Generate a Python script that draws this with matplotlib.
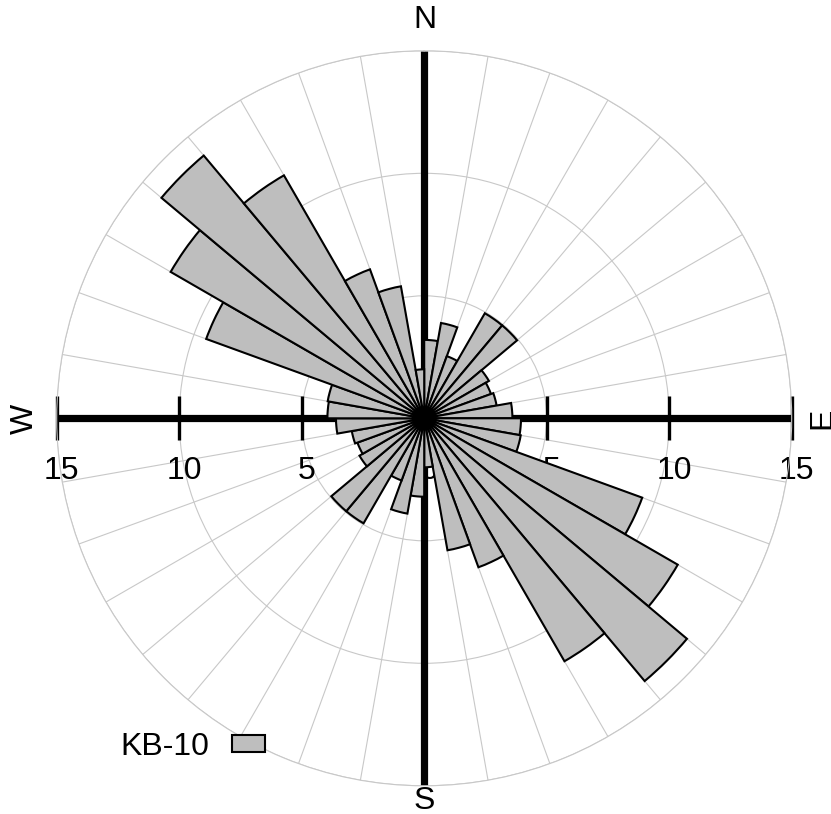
import numpy as np
import matplotlib
matplotlib.use("Agg")
import matplotlib.pyplot as plt

plt.rcParams['font.family'] = ['Liberation Sans', 'DejaVu Sans']

# ---- data: rose diagram, 10-degree bins (bin start azimuths, degrees) ----
bin_start_deg = [0, 10, 20, 30, 40, 50, 60, 70, 80, 90, 100, 110, 120, 130, 140, 150, 160, 170,
                 180, 190, 200, 210, 220, 230, 240, 250, 260, 270, 280, 290, 300, 310, 320, 330, 340, 350]
counts = [3.2, 3.95, 2.7, 4.95, 4.95, 3.05, 2.9, 3.0, 3.6, 3.95, 4.0, 9.47, 11.95, 14.0, 11.45, 6.47, 5.47, 2.0,
          3.2, 3.95, 2.7, 4.95, 4.95, 3.05, 2.9, 3.0, 3.6, 3.95, 4.0, 9.47, 11.95, 14.0, 11.45, 6.47, 5.47, 2.0]
bin_width_deg = 10
series_name = "KB-10"
ring_values = [5, 10, 15]
axis_tick_labels_w = ["15", "10", "5"]
axis_tick_labels_e = ["5", "10", "15"]
center_label = "0"
compass = ["N", "E", "S", "W"]

W, H = 831, 814
fig = plt.figure(figsize=(W / 100, H / 100), dpi=100)
cx, cy, R = 424.2, 418.3, 367.5
ax = fig.add_axes([(cx - R) / W, (H - cy - R) / H, 2 * R / W, 2 * R / H], projection='polar')
ax.set_theta_zero_location('N')
ax.set_theta_direction(-1)
ax.set_ylim(0, 15)
ax.set_axisbelow(True)

grid_col = '#c8c8c8'
ax.set_thetagrids(np.arange(0, 360, 10), labels=[])
ax.set_rgrids(ring_values, labels=[])
ax.grid(True, color=grid_col, linewidth=0.8)
ax.spines['polar'].set_edgecolor(grid_col)
ax.spines['polar'].set_linewidth(0.8)
ax.tick_params(length=0)

# compass axis lines
for ang in [0, 90, 180, 270]:
    ax.plot([np.radians(ang)] * 2, [0, 15], color='black', lw=5.2,
            solid_capstyle='butt', zorder=1)

# tick marks on E-W axis
for ang in [90, 270]:
    ax.plot([np.radians(ang)] * len(ring_values), ring_values, ls='none', marker='|',
            ms=31, mew=2.4, color='black', zorder=1.1, clip_on=False)

fs = 23
# tick labels below the E-W axis
for v, lab in zip(ring_values[::-1], axis_tick_labels_w):
    ax.annotate(lab, xy=(np.radians(270), v), xytext=(3.6, -38), textcoords='offset points',
                ha='center', va='center', fontsize=fs, zorder=1.2, annotation_clip=False)
for v, lab in zip(ring_values, axis_tick_labels_e):
    ax.annotate(lab, xy=(np.radians(90), v), xytext=(3.6, -38), textcoords='offset points',
                ha='center', va='center', fontsize=fs, zorder=1.2, annotation_clip=False)
ax.annotate(center_label, xy=(0, 0), xytext=(3.6, -38), textcoords='offset points',
            ha='center', va='center', fontsize=fs, zorder=1.2, annotation_clip=False)

# bars
bars = ax.bar(np.radians(bin_start_deg), counts, width=np.radians(bin_width_deg), align='edge',
              color='#bebebe', edgecolor='black', linewidth=1.5, zorder=2, label=series_name)

# compass labels
fig.text(425 / W, 1 - 20 / H, compass[0], ha='center', va='center', fontsize=fs)
fig.text(424 / W, 1 - 801 / H, compass[2], ha='center', va='center', fontsize=fs)
fig.text(25 / W, 1 - 419 / H, compass[3], ha='center', va='center', fontsize=fs, rotation=90)
fig.text(822 / W, 1 - 418 / H, compass[1], ha='center', va='center', fontsize=fs, rotation=90)

fig.legend(handles=[bars], labels=[series_name], loc='center', bbox_to_anchor=(193 / W, 1 - 747 / H),
           frameon=False, markerfirst=False, fontsize=fs, handlelength=1.05, handleheight=0.44,
           handletextpad=0.7, borderpad=0, borderaxespad=0)

fig.savefig('out.png', dpi=100)
